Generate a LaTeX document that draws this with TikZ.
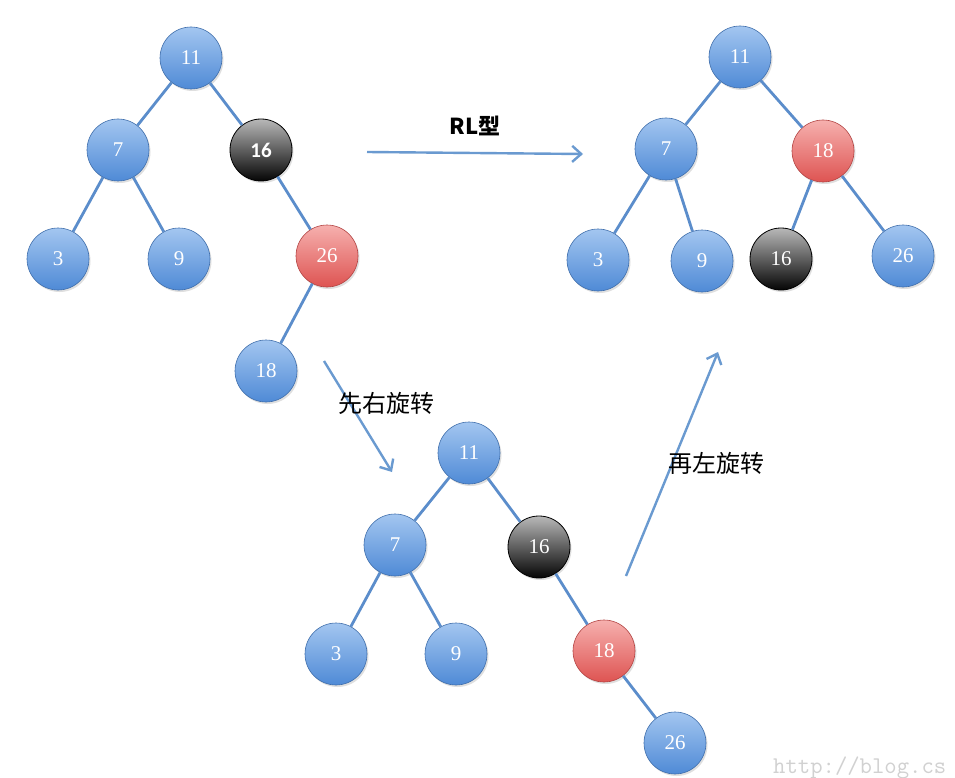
\documentclass[tikz,border=0pt]{standalone}
\usepackage{fontspec}
\setmainfont{Liberation Serif}
\newfontfamily\cjk{Noto Sans CJK SC}
\newfontfamily\calib{Carlito}
\usetikzlibrary{arrows.meta,shadows}
\definecolor{edgeblue}{HTML}{5B8DCB}
\definecolor{arrblue}{HTML}{6A9AD0}
\definecolor{bltop}{HTML}{A3C6F0}
\definecolor{blbot}{HTML}{4F8AD6}
\definecolor{rdtop}{HTML}{F6B0AE}
\definecolor{rdbot}{HTML}{DE5452}
\definecolor{bktop}{HTML}{B8B8B8}
\definecolor{bkbot}{HTML}{050505}
\tikzset{
  tn/.style={circle, minimum size=62pt, inner sep=0pt, text=white,
    font=\fontsize{21}{23}\selectfont,
    drop shadow={shadow xshift=1.5pt, shadow yshift=-2pt, opacity=0.25}},
  bn/.style={tn, top color=bltop, bottom color=blbot, draw=blbot!80!black, line width=0.6pt},
  rn/.style={tn, top color=rdtop, bottom color=rdbot, draw=rdbot!80!black, line width=0.6pt},
  kn/.style={tn, top color=bktop, bottom color=bkbot, draw=black, line width=0.8pt},
  edge/.style={draw=edgeblue, line width=2.8pt},
  bigarrow/.style={draw=arrblue, line width=2.4pt, -{Straight Barb[length=9pt,width=16pt,line width=2.4pt]}},
  lbl/.style={font=\cjk\fontsize{24}{26}\selectfont, text=black, inner sep=0pt}
}
\begin{document}
\begin{tikzpicture}[x=1pt,y=-1pt]
\useasboundingbox (0,0) rectangle (955,778);
\fill[white] (0,0) rectangle (955,778);
% tree 1
\node[bn] (a11) at (191,58) {11};
\node[bn] (a7) at (118,150) {7};
\node[kn, font=\calib\bfseries\fontsize{21}{23}\selectfont] (a16) at (261,150) {16};
\node[bn] (a3) at (58,259) {3};
\node[bn] (a9) at (179,259) {9};
\node[rn] (a26) at (327,256) {26};
\node[bn] (a18) at (266,371) {18};
\draw[edge] (a11) -- (a7);
\draw[edge] (a11) -- (a16);
\draw[edge] (a7) -- (a3);
\draw[edge] (a7) -- (a9);
\draw[edge] (a16) -- (a26);
\draw[edge] (a26) -- (a18);
% tree 2
\node[bn] (b11) at (740,57) {11};
\node[bn] (b7) at (666,149) {7};
\node[rn] (b18) at (823,151) {18};
\node[bn] (b3) at (598,260) {3};
\node[bn] (b9) at (702,261) {9};
\node[kn] (b16) at (781,259) {16};
\node[bn] (b26) at (903,256) {26};
\draw[edge] (b11) -- (b7);
\draw[edge] (b11) -- (b18);
\draw[edge] (b7) -- (b3);
\draw[edge] (b7) -- (b9);
\draw[edge] (b18) -- (b16);
\draw[edge] (b18) -- (b26);
% tree 3
\node[bn] (c11) at (469,453) {11};
\node[bn] (c7) at (395,545) {7};
\node[kn] (c16) at (539,547) {16};
\node[bn] (c3) at (336,654) {3};
\node[bn] (c9) at (456,654) {9};
\node[rn] (c18) at (604,651) {18};
\node[bn] (c26) at (675,743) {26};
\draw[edge] (c11) -- (c7);
\draw[edge] (c11) -- (c16);
\draw[edge] (c7) -- (c3);
\draw[edge] (c7) -- (c9);
\draw[edge] (c16) -- (c18);
\draw[edge] (c18) -- (c26);
% arrows
\coordinate (p1) at (367,152);
\coordinate (p2) at (583,154);
\coordinate (q1) at (324,361);
\coordinate (q2) at (392,472);
\coordinate (r1) at (626,576);
\coordinate (r2) at (718,352);
\draw[bigarrow] (p1) -- (p2);
\draw[bigarrow] (q1) -- (q2);
\draw[bigarrow] (r1) -- (r2);
\node[lbl, font=\cjk\bfseries\fontsize{22}{24}\selectfont] (t1) at (475,126) {RL型};
\node[lbl] (t2) at (386,403) {先右旋转};
\node[lbl] (t3) at (716,463) {再左旋转};
\node[anchor=base west, inner sep=0pt, text=black!18, font=\ttfamily\fontsize{24}{26}\selectfont] (wm) at (773,773) {http://blog.cs};
\end{tikzpicture}
\end{document}
